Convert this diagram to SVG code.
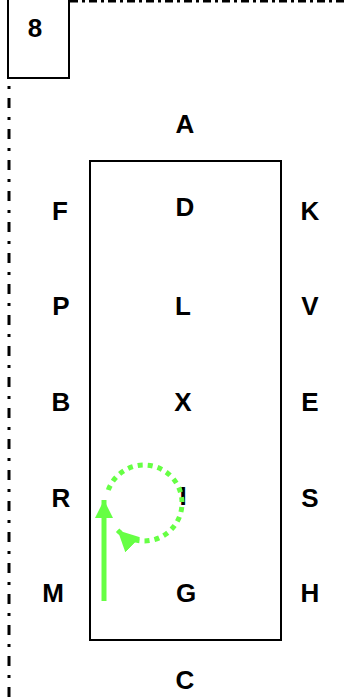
<svg xmlns="http://www.w3.org/2000/svg" width="347" height="697" viewBox="0 0 347 697">
<defs>
<style>
.lbl{font-family:"Liberation Sans",Arial,sans-serif;font-weight:bold;font-size:26px;fill:#000;text-anchor:middle;dominant-baseline:central}
.frame{fill:none;stroke:#000;stroke-width:3}
.box{fill:#fff;stroke:#000;stroke-width:2}
.grn{fill:none;stroke:#66ff44;stroke-width:5}
</style>
<marker id="ah" viewBox="0 0 10 10" refX="10" refY="5" markerWidth="18" markerHeight="18" orient="auto" markerUnits="userSpaceOnUse">
<path d="M0,0 L10,5 L0,10 z" fill="#66ff44"/>
</marker>
<marker id="ah2" viewBox="0 0 10 10" refX="10" refY="5" markerWidth="21" markerHeight="21" orient="auto" markerUnits="userSpaceOnUse">
<path d="M0,0 L10,5 L0,10 z" fill="#66ff44"/>
</marker>
</defs>
<g id="frame">
<path class="frame" stroke-dasharray="10 9 3 9" d="M9,697 L9,0"/>
<path class="frame" stroke-dasharray="8 4 3 4" d="M70,1 L347,1"/>
</g>
<g id="tag"><rect class="box" x="8" y="-2" width="61" height="80"/><text class="lbl" x="35" y="28">8</text></g>
<g id="main"><rect class="box" x="90" y="161" width="191" height="479"/></g>
<g id="labels">
<text class="lbl" x="185" y="124">A</text>
<text class="lbl" x="60" y="211">F</text>
<text class="lbl" x="185" y="207">D</text>
<text class="lbl" x="310" y="211">K</text>
<text class="lbl" x="61" y="306">P</text>
<text class="lbl" x="183" y="306">L</text>
<text class="lbl" x="310" y="306">V</text>
<text class="lbl" x="61" y="402">B</text>
<text class="lbl" x="183" y="402">X</text>
<text class="lbl" x="310" y="402">E</text>
<text class="lbl" x="61" y="498">R</text>
<text class="lbl" x="183" y="496">I</text>
<text class="lbl" x="310" y="498">S</text>
<text class="lbl" x="53" y="593">M</text>
<text class="lbl" x="186" y="593">G</text>
<text class="lbl" x="310" y="593">H</text>
<text class="lbl" x="185" y="680">C</text>
</g>
<g id="connectors">
<path class="grn" d="M104,601 L104,500" marker-end="url(#ah)"/>
<path class="grn" stroke-dasharray="5 5" d="M108.3,490 A38,38 0 1 1 117.6,530.3" marker-end="url(#ah2)"/>
</g>
</svg>
